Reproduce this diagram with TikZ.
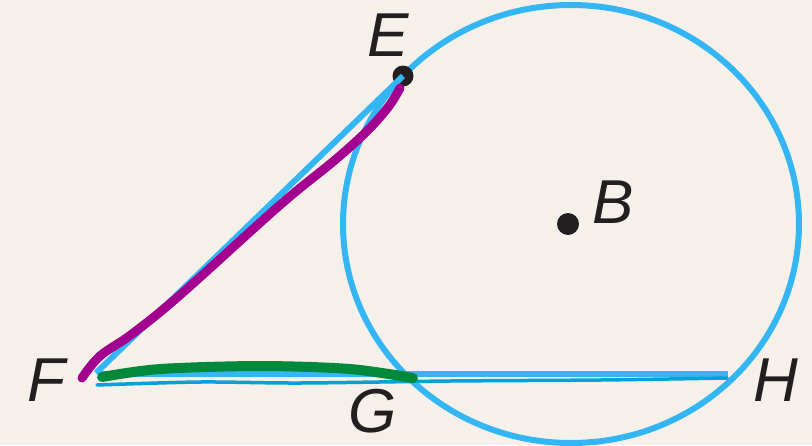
\documentclass[tikz,border=0pt]{standalone}
\usepackage{fontspec}
\setmainfont{Liberation Sans}
\definecolor{bg}{HTML}{F5F1EA}
\definecolor{cblue}{HTML}{35B6F4}
\definecolor{dblue}{HTML}{04A2D6}
\definecolor{purp}{HTML}{A3008F}
\definecolor{grn}{HTML}{00893B}
\definecolor{ink}{HTML}{231F20}
\tikzset{
  lbl/.style={font=\fontsize{62}{62}\selectfont\itshape, text=ink, inner sep=0pt},
  geo/.style={cblue, line width=6pt},
  pt/.style={circle, fill=ink, inner sep=0pt, minimum size=21pt}
}
\begin{document}
\begin{tikzpicture}[x=1pt,y=-1pt]
\fill[bg] (0,0) rectangle (812,445);
\useasboundingbox (0,0) rectangle (812,445);
\draw[geo] (571,224) ellipse [x radius=228, y radius=219];
\coordinate (F) at (96,373);
\coordinate (H) at (728,374);
\coordinate (G) at (413,374);
\node[pt] (E) at (403,76) {};
\node[pt, minimum size=22pt] (B) at (568,224) {};
\draw[geo] (F) ++(2,1) -- (H);
\draw[geo] (F) -- (E.center);
\draw[dblue, line width=3.5pt, line cap=round] plot[smooth] coordinates {(97,385) (200,382) (300,383) (450,381) (600,380) (727,378)};
\draw[grn, line width=10pt, line cap=round] plot[smooth] coordinates {(102,377) (160,369) (260,366) (350,369) (413,378)};
\draw[purp, line width=9pt, line cap=round] plot[smooth, tension=0.6] coordinates {(82,378) (100,356) (132,334) (180,295) (280,205) (335,160) (368,130) (389,106) (400,88)};
\node[lbl] (lE) at (388,35) {E};
\node[lbl] (lB) at (613,202) {B};
\node[lbl] (lF) at (46,380) {F};
\node[lbl] (lG) at (373,411) {G};
\node[lbl] (lH) at (776,380) {H};
\end{tikzpicture}
\end{document}
